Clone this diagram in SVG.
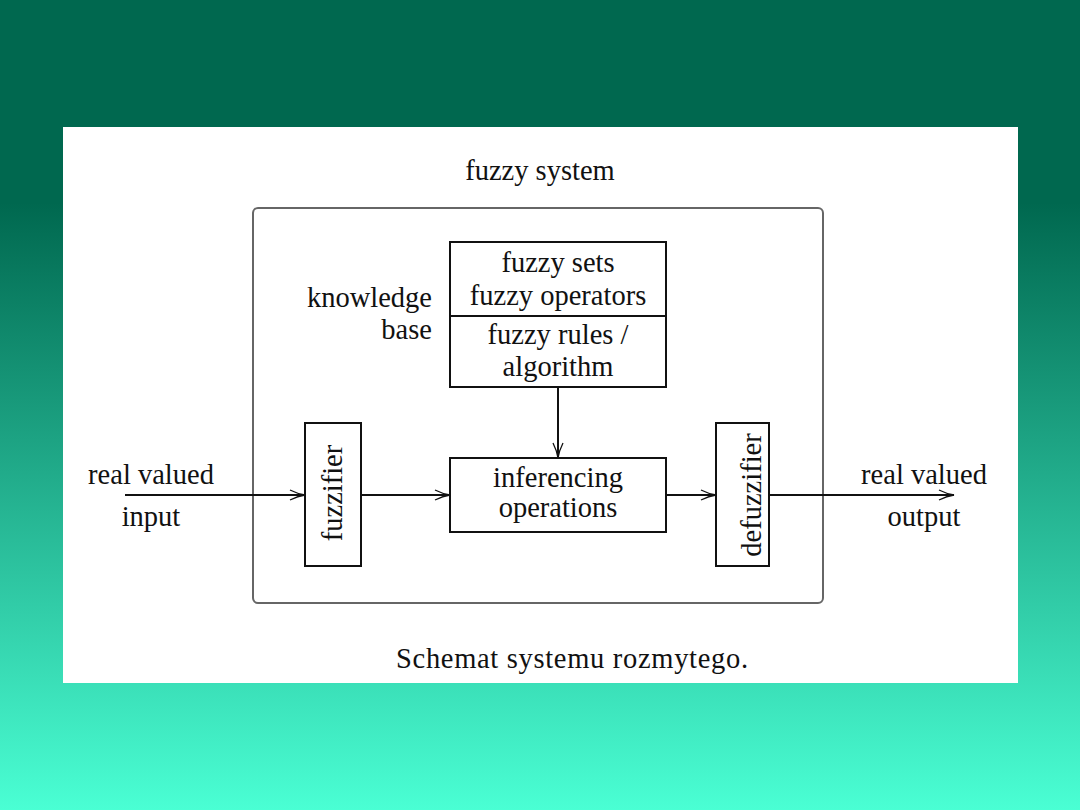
<svg xmlns="http://www.w3.org/2000/svg" width="1080" height="810" viewBox="0 0 1080 810">
<defs>
<linearGradient id="bg" x1="0" y1="0" x2="0" y2="810" gradientUnits="userSpaceOnUse">
<stop offset="0" stop-color="#00684f"/>
<stop offset="0.25" stop-color="#00684f"/>
<stop offset="1" stop-color="#4affd4"/>
</linearGradient>
<marker id="arr" markerWidth="18" markerHeight="12" refX="16" refY="6" orient="auto" markerUnits="userSpaceOnUse">
<path d="M1,1 Q9,5 16,6 Q9,7 1,11" fill="none" stroke="#111" stroke-width="1.3"/>
</marker>
<style>
text{font-family:"Liberation Serif","Times New Roman",serif;fill:#111;font-size:28.5px}
.box{fill:#fff;stroke:#111;stroke-width:2}
.ln{stroke:#111;stroke-width:2;fill:none}
</style>
</defs>
<rect width="1080" height="810" fill="url(#bg)"/>
<rect x="63" y="127" width="955" height="556" fill="#fff"/>

<g id="fuzzy-system">
<rect x="253" y="208" width="570" height="395" rx="5" fill="none" stroke="#666" stroke-width="2"/>
<text x="540" y="180" text-anchor="middle">fuzzy system</text>
</g>

<g id="knowledge-base">
<rect class="box" x="450" y="242" width="216" height="145"/>
<line class="ln" x1="450" y1="316" x2="666" y2="316"/>
<text x="432" y="307" text-anchor="end">knowledge</text>
<text x="432" y="339" text-anchor="end">base</text>
<text x="558" y="272" text-anchor="middle">fuzzy sets</text>
<text x="558" y="305" text-anchor="middle">fuzzy operators</text>
<text x="558" y="344" text-anchor="middle">fuzzy rules /</text>
<text x="558" y="376" text-anchor="middle">algorithm</text>
</g>

<g id="inferencing">
<rect class="box" x="450" y="458" width="216" height="74"/>
<text x="558" y="487" text-anchor="middle">inferencing</text>
<text x="558" y="517" text-anchor="middle">operations</text>
</g>

<g id="fuzzifier">
<rect class="box" x="305" y="423" width="56" height="143"/>
<text transform="translate(342,493) rotate(-90)" text-anchor="middle">fuzzifier</text>
</g>

<g id="defuzzifier">
<rect class="box" x="716" y="423" width="53" height="143"/>
<text transform="translate(761,495) rotate(-90)" text-anchor="middle">defuzzifier</text>
</g>

<g id="input-label">
<text x="151" y="484" text-anchor="middle">real valued</text>
<text x="151" y="526" text-anchor="middle">input</text>
</g>
<g id="output-label">
<text x="924" y="484" text-anchor="middle">real valued</text>
<text x="924" y="526" text-anchor="middle">output</text>
</g>

<g id="connectors">
<line class="ln" x1="125" y1="495" x2="305" y2="495" marker-end="url(#arr)"/>
<line class="ln" x1="361" y1="495" x2="450" y2="495" marker-end="url(#arr)"/>
<line class="ln" x1="666" y1="495" x2="716" y2="495" marker-end="url(#arr)"/>
<line class="ln" x1="769" y1="495" x2="954" y2="495" marker-end="url(#arr)"/>
<line class="ln" x1="558" y1="387" x2="558" y2="458" marker-end="url(#arr)"/>
</g>

<text x="572" y="668" text-anchor="middle" textLength="352">Schemat systemu rozmytego.</text>
</svg>
